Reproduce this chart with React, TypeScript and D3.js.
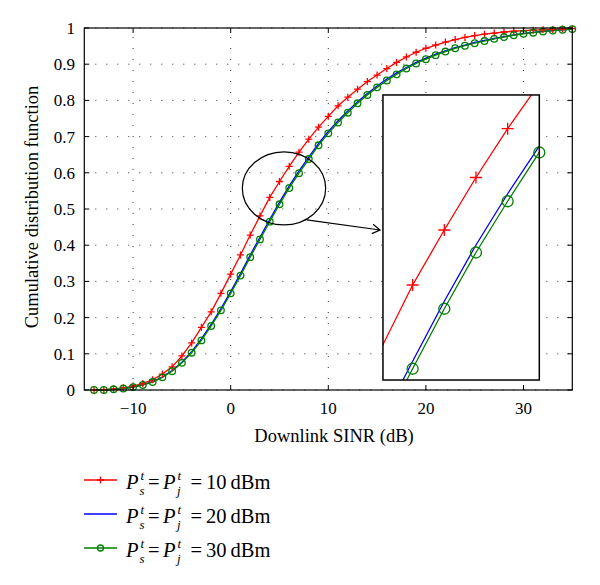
import { useEffect, useRef } from 'react';
import * as d3 from 'd3';

// SINR grid (dB) shared by every curve
const snr = [-14, -13, -12, -11, -10, -9, -8, -7, -6, -5, -4, -3, -2, -1, 0, 1, 2, 3, 4, 5, 6, 7, 8, 9, 10, 11, 12, 13, 14, 15, 16, 17, 18, 19, 20, 21, 22, 23, 24, 25, 26, 27, 28, 29, 30, 31, 32, 33, 34, 35];

const cdf10 = [0.000, 0.001, 0.003, 0.006, 0.011, 0.018, 0.028, 0.044, 0.064, 0.094, 0.130, 0.173, 0.216, 0.267, 0.320, 0.373, 0.428, 0.481, 0.532, 0.576, 0.618, 0.657, 0.693, 0.726, 0.756, 0.785, 0.809, 0.831, 0.852, 0.870, 0.888, 0.905, 0.920, 0.933, 0.944, 0.953, 0.961, 0.968, 0.974, 0.979, 0.983, 0.986, 0.989, 0.991, 0.993, 0.994, 0.995, 0.996, 0.997, 0.998];
const cdf20 = [0.000, 0.000, 0.002, 0.004, 0.008, 0.014, 0.023, 0.036, 0.054, 0.077, 0.106, 0.141, 0.181, 0.225, 0.272, 0.322, 0.373, 0.422, 0.471, 0.519, 0.564, 0.605, 0.643, 0.681, 0.714, 0.744, 0.771, 0.796, 0.819, 0.840, 0.859, 0.876, 0.891, 0.905, 0.917, 0.928, 0.937, 0.946, 0.953, 0.960, 0.966, 0.971, 0.976, 0.981, 0.985, 0.988, 0.991, 0.993, 0.995, 0.997];
const cdf30 = [0.000, 0.000, 0.002, 0.004, 0.008, 0.014, 0.022, 0.035, 0.052, 0.075, 0.103, 0.137, 0.177, 0.220, 0.267, 0.316, 0.367, 0.416, 0.465, 0.513, 0.558, 0.599, 0.638, 0.676, 0.709, 0.739, 0.766, 0.792, 0.815, 0.836, 0.855, 0.872, 0.888, 0.902, 0.914, 0.925, 0.935, 0.944, 0.951, 0.958, 0.964, 0.970, 0.975, 0.980, 0.984, 0.987, 0.990, 0.993, 0.995, 0.997];

const xTicks = [-10, 0, 10, 20, 30];
const yTicks = [0, 0.1, 0.2, 0.3, 0.4, 0.5, 0.6, 0.7, 0.8, 0.9, 1];
const legendPower = ['10', '20', '30'];

// zoom annotation (main data coordinates)
const zoomEllipse = { cx: 5.46, cy: 0.557, rx: 4.27, ry: 0.101 };
const zoomArrow = { x1: 7.79, y1: 0.47, x2: 15.3, y2: 0.442 };
const insetBox = { x0: 15.6, x1: 31.62, y0: 0.0276, y1: 0.815 };
const insetX = [3.063, 8.0];
const insetY = [0.456, 0.684];

const FONT = '"Liberation Serif", "DejaVu Serif", serif';

export default function App() {
  const ref = useRef<SVGSVGElement | null>(null);

  useEffect(() => {
    const svg = d3.select(ref.current);
    svg.selectAll('*').remove();

    const series = [
      { key: '10', values: cdf10, color: '#ff0000', marker: 'plus' },
      { key: '20', values: cdf20, color: '#0000ff', marker: 'none' },
      { key: '30', values: cdf30, color: '#008000', marker: 'circle' },
    ];

    const x = d3.scaleLinear().domain([-15, 35]).range([84.3, 572.3]);
    const y = d3.scaleLinear().domain([0, 1]).range([390, 28]);

    const g = svg.append('g');

    // grid
    xTicks.forEach(t => {
      g.append('line').attr('x1', x(t)).attr('x2', x(t)).attr('y1', y(0)).attr('y2', y(1))
        .attr('stroke', '#333').attr('stroke-width', 1).attr('stroke-dasharray', '1,10');
    });
    yTicks.forEach(t => {
      g.append('line').attr('x1', x(-15)).attr('x2', x(35)).attr('y1', y(t)).attr('y2', y(t))
        .attr('stroke', '#333').attr('stroke-width', 1).attr('stroke-dasharray', '1,10');
    });

    // curves
    const line = d3.line<number>().x((_, i) => x(snr[i])).y(d => y(d));
    series.forEach(s => {
      g.append('path').attr('d', line(s.values)).attr('fill', 'none')
        .attr('stroke', s.color).attr('stroke-width', 1.3);
    });

    const drawMarker = (sel: any, kind: string, cx: number, cy: number, size: number, color: string) => {
      if (kind === 'plus') {
        sel.append('path')
          .attr('d', `M${cx - size},${cy}H${cx + size}M${cx},${cy - size}V${cy + size}`)
          .attr('stroke', color).attr('stroke-width', 1.3).attr('fill', 'none');
      } else if (kind === 'circle') {
        sel.append('circle').attr('cx', cx).attr('cy', cy).attr('r', size)
          .attr('stroke', color).attr('stroke-width', 1.3).attr('fill', 'none');
      }
    };

    series.forEach(s => {
      s.values.forEach((v, i) => drawMarker(g, s.marker, x(snr[i]), y(v), s.marker === 'plus' ? 3.5 : 3.3, s.color));
    });

    // box + inward ticks
    g.append('rect').attr('x', x(-15)).attr('y', y(1)).attr('width', x(35) - x(-15)).attr('height', y(0) - y(1))
      .attr('fill', 'none').attr('stroke', '#000').attr('stroke-width', 1.2);
    xTicks.forEach(t => {
      g.append('path').attr('d', `M${x(t)},${y(0)}v-5M${x(t)},${y(1)}v5`).attr('stroke', '#000');
      g.append('text').attr('x', x(t)).attr('y', 414).attr('text-anchor', 'middle')
        .attr('font-family', FONT).attr('font-size', 17)
        .text(t < 0 ? `\u2212${Math.abs(t)}` : `${t}`);
    });
    yTicks.forEach(t => {
      g.append('path').attr('d', `M${x(-15)},${y(t)}h5M${x(35)},${y(t)}h-5`).attr('stroke', '#000');
      g.append('text').attr('x', 75).attr('y', y(t) + 6).attr('text-anchor', 'end')
        .attr('font-family', FONT).attr('font-size', 17).text(`${t}`);
    });

    // axis titles
    g.append('text').attr('x', 334).attr('y', 442).attr('text-anchor', 'middle')
      .attr('font-family', FONT).attr('font-size', 18.5).text('Downlink SINR (dB)');
    g.append('text').attr('transform', `translate(38,${207}) rotate(-90)`).attr('text-anchor', 'middle')
      .attr('font-family', FONT).attr('font-size', 18.5).text('Cumulative distribution function');

    // ellipse + arrow
    g.append('ellipse').attr('cx', x(zoomEllipse.cx)).attr('cy', y(zoomEllipse.cy))
      .attr('rx', x(zoomEllipse.cx + zoomEllipse.rx) - x(zoomEllipse.cx))
      .attr('ry', y(zoomEllipse.cy - zoomEllipse.ry) - y(zoomEllipse.cy))
      .attr('fill', 'none').attr('stroke', '#000').attr('stroke-width', 1.2);
    const ax1 = x(zoomArrow.x1), ay1 = y(zoomArrow.y1), ax2 = x(zoomArrow.x2), ay2 = y(zoomArrow.y2);
    const ang = Math.atan2(ay2 - ay1, ax2 - ax1);
    const hl = 9, ha = 0.55;
    g.append('path')
      .attr('d', `M${ax1},${ay1}L${ax2},${ay2}M${ax2 - hl * Math.cos(ang - ha)},${ay2 - hl * Math.sin(ang - ha)}L${ax2},${ay2}L${ax2 - hl * Math.cos(ang + ha)},${ay2 - hl * Math.sin(ang + ha)}`)
      .attr('fill', 'none').attr('stroke', '#000').attr('stroke-width', 1.2);

    // inset
    const bx0 = x(insetBox.x0), bx1 = x(insetBox.x1), by0 = y(insetBox.y1), by1 = y(insetBox.y0);
    const xi = d3.scaleLinear().domain(insetX).range([bx0, bx1]);
    const yi = d3.scaleLinear().domain(insetY).range([by1, by0]);
    g.append('rect').attr('x', bx0).attr('y', by0).attr('width', bx1 - bx0).attr('height', by1 - by0)
      .attr('fill', '#fff').attr('stroke', 'none');
    svg.append('defs').append('clipPath').attr('id', 'insetClip')
      .append('rect').attr('x', bx0).attr('y', by0).attr('width', bx1 - bx0).attr('height', by1 - by0);
    const gi = g.append('g');
    const lineI = d3.line<number>().x((_, i) => xi(snr[i])).y(d => yi(d));
    series.forEach(s => {
      gi.append('path').attr('d', lineI(s.values)).attr('fill', 'none').attr('clip-path', 'url(#insetClip)')
        .attr('stroke', s.color).attr('stroke-width', 1.3);
    });
    series.forEach(s => {
      s.values.forEach((v, i) => {
        if (snr[i] >= insetX[0] && snr[i] <= insetX[1] + 1e-6 && v >= insetY[0] && v <= insetY[1]) {
          drawMarker(gi, s.marker, xi(snr[i]), yi(v), s.marker === 'plus' ? 6 : 5.5, s.color);
        }
      });
    });
    g.append('rect').attr('x', bx0).attr('y', by0).attr('width', bx1 - bx0).attr('height', by1 - by0)
      .attr('fill', 'none').attr('stroke', '#000').attr('stroke-width', 1.5);

    // legend
    series.forEach((s, i) => {
      const ly = 480 + i * 34;
      const lg = svg.append('g');
      lg.append('line').attr('x1', 84).attr('x2', 117).attr('y1', ly).attr('y2', ly)
        .attr('stroke', s.color).attr('stroke-width', 1.3);
      drawMarker(lg, s.marker, 100.5, ly, s.marker === 'plus' ? 3.5 : 3, s.color);
      const base = ly + 8.5;
      const piece = (px: number, py: number, txt: string, size: number, italic: boolean) => {
        lg.append('text').attr('x', px).attr('y', py).attr('font-family', FONT).attr('font-size', size)
          .attr('font-style', italic ? 'italic' : 'normal').text(txt);
      };
      piece(126, base, 'P', 20.5, true);
      piece(140.5, base - 9, 't', 13, true);
      piece(139.5, base + 6, 's', 13, true);
      piece(148, base, '=', 20.5, false);
      piece(163, base, 'P', 20.5, true);
      piece(177.5, base - 9, 't', 13, true);
      piece(177, base + 6, 'j', 13, true);
      piece(190.5, base, '=', 20.5, false);
      piece(206, base, `${legendPower[i]}\u2009dBm`, 20.5, false);
    });
  }, []);

  return (
    <svg ref={ref} width={600} height={585}
      style={{ position: 'absolute', left: 0, top: 0, background: '#fff' }} />
  );
}
